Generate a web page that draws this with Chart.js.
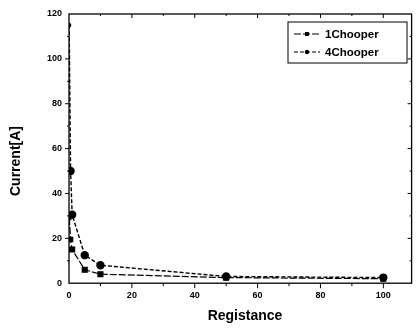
<!DOCTYPE html>
<html>
<head>
<meta charset="utf-8">
<script src="https://cdn.jsdelivr.net/npm/chart.js@4"></script>
<style>
  html, body { margin: 0; padding: 0; background: #fff; }
  #wrap { width: 417px; height: 329px; }
</style>
</head>
<body>
<div id="wrap"><canvas id="chart" width="417" height="329"></canvas></div>
<script>
// Resistance values (x) and measured currents (y)
const oneChooperX = [0.1, 0.5, 1, 5, 10, 50, 100];
const oneChooperY = [29, 19.5, 15, 6, 4, 2.5, 2];
const fourChooperX = [0.05, 0.5, 1, 5, 10, 50, 100];
const fourChooperY = [115, 50, 30.5, 12.5, 8, 3, 2.5];
const seriesNames = ["1Chooper", "4Chooper"];
const xTicks = [0, 20, 40, 60, 80, 100];
const yTicks = [0, 20, 40, 60, 80, 100, 120];
const xTitle = "Registance";
const yTitle = "Current[A]";

const FONT = "'Liberation Sans', Arial, sans-serif";

function toPoints(xs, ys) {
    return xs.map((x, i) => ({ x: x, y: ys[i] }));
}

// frame, minor ticks, axis titles and the boxed legend
const framePlugin = {
    id: "frame",
    afterDraw(chart) {
        const ctx = chart.ctx;
        const a = chart.chartArea;
        const xs = chart.scales.x, ys = chart.scales.y;
        ctx.save();
        ctx.strokeStyle = "#000";
        ctx.lineWidth = 1.3;
        ctx.strokeRect(a.left, a.top, a.right - a.left, a.bottom - a.top);

        ctx.lineWidth = 1;
        ctx.beginPath();
        for (let v = 10; v <= 100; v += 10) {
            const px = xs.getPixelForValue(v);
            const major = v % 20 === 0;
            ctx.moveTo(px, a.bottom); ctx.lineTo(px, a.bottom + (major ? 5 : 3));
            ctx.moveTo(px, a.top); ctx.lineTo(px, a.top + (major ? 4 : 2));
        }
        for (let v = 10; v < 120; v += 10) {
            const py = ys.getPixelForValue(v);
            const major = v % 20 === 0;
            ctx.moveTo(a.left, py); ctx.lineTo(a.left - (major ? 4 : 2), py);
            ctx.moveTo(a.right, py); ctx.lineTo(a.right - (major ? 4 : 2), py);
        }
        ctx.stroke();

        // axis titles (placed a little off-centre, like the scan)
        ctx.fillStyle = "#000";
        ctx.font = "bold 14px " + FONT;
        ctx.textAlign = "center";
        ctx.textBaseline = "middle";
        ctx.fillText(xTitle, 245, 316);
        ctx.save();
        ctx.translate(16, 161);
        ctx.rotate(-Math.PI / 2);
        ctx.fillText(yTitle, 0, 0);
        ctx.restore();

        // legend box
        const bx = 288, by = 22, bw = 119, bh = 41;
        ctx.fillStyle = "#fff";
        ctx.fillRect(bx, by, bw, bh);
        ctx.lineWidth = 1;
        ctx.strokeRect(bx, by, bw, bh);
        const rows = [by + 12, by + 30];
        chart.data.datasets.forEach((ds, i) => {
            const y = rows[i];
            ctx.beginPath();
            ctx.setLineDash(ds.borderDash || []);
            ctx.moveTo(bx + 6, y); ctx.lineTo(bx + 32, y);
            ctx.stroke();
            ctx.setLineDash([]);
            ctx.fillStyle = "#000";
            if (ds.pointStyle === "rect") {
                ctx.fillRect(bx + 17, y - 2, 4, 4);
            } else {
                ctx.beginPath();
                ctx.arc(bx + 19, y, 2.2, 0, Math.PI * 2);
                ctx.fill();
            }
            ctx.font = "bold 11.5px " + FONT;
            ctx.textBaseline = "middle";
            ctx.textAlign = "left";
            ctx.fillText(ds.label, bx + 37, y + 1);
        });
        ctx.restore();
    }
};

new Chart(document.getElementById("chart"), {
    type: "scatter",
    data: {
        datasets: [
            {
                label: seriesNames[0],
                data: toPoints(oneChooperX, oneChooperY),
                showLine: true,
                borderColor: "#000",
                backgroundColor: "#000",
                borderWidth: 1.2,
                pointStyle: "rect",
                pointRadius: [2, 3, 3.5, 3.5, 3.5, 3.5, 3.5],
                borderDash: [7, 2]
            },
            {
                label: seriesNames[1],
                data: toPoints(fourChooperX, fourChooperY),
                showLine: true,
                borderColor: "#000",
                backgroundColor: "#000",
                borderWidth: 1.4,
                pointStyle: "circle",
                pointRadius: [1.5, 3.5, 3.5, 3.5, 3.5, 3.5, 3.5],
                borderDash: [4, 2]
            }
        ]
    },
    options: {
        responsive: false,
        animation: false,
        layout: { padding: { top: 14, right: 2, left: 40, bottom: 21 } },
        plugins: {
            legend: { display: false },
            tooltip: { enabled: false }
        },
        scales: {
            x: {
                type: "linear",
                min: 0,
                max: 109,
                afterBuildTicks: (s) => { s.ticks = xTicks.map(v => ({ value: v })); },
                grid: { display: false, drawTicks: false },
                border: { display: false },
                ticks: {
                    color: "#000",
                    padding: 7,
                    font: { family: FONT, size: 9, weight: "bold" }
                }
            },
            y: {
                type: "linear",
                min: 0,
                max: 120,
                afterBuildTicks: (s) => { s.ticks = yTicks.map(v => ({ value: v })); },
                grid: { display: false, drawTicks: false },
                border: { display: false },
                ticks: {
                    color: "#000",
                    padding: 7,
                    font: { family: FONT, size: 9, weight: "bold" }
                }
            }
        }
    },
    plugins: [framePlugin]
});
</script>
</body>
</html>
